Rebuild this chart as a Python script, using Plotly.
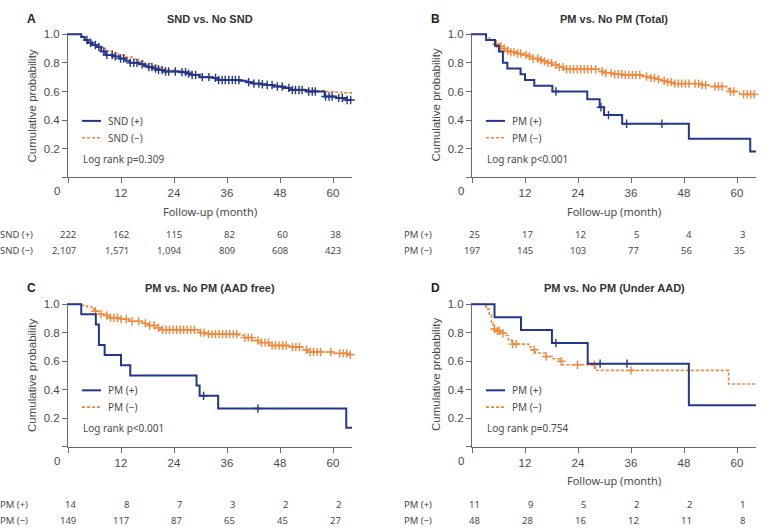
import numpy as np
import plotly.graph_objects as go

W, H = 765, 530
X_MAX = 64.3
MONTH_TICKS = [0, 12, 24, 36, 48, 60]
Y_TICKS = [0, 0.2, 0.4, 0.6, 0.8, 1.0]

# ---------------- Panel A: SND vs. No SND ----------------
A_pos_t = [0, 3.0, 3.8, 4.5, 5.4, 6.4, 7.5, 8.5, 10.2, 11.7, 13.0, 14.0, 16.2, 17.2, 18.1, 19.2, 20.0,
           21.5, 25.3, 26.8, 28.0, 29.8, 32.8, 34.0, 38.9, 40.4, 41.9, 43.5, 44.9, 46.4, 48.7, 50.2,
           54.0, 58.1, 60.7, 63.0]
A_pos_s = [1.0, 0.98, 0.96, 0.94, 0.925, 0.91, 0.88, 0.855, 0.845, 0.83, 0.815, 0.80, 0.79, 0.78, 0.77,
           0.76, 0.75, 0.74, 0.735, 0.725, 0.715, 0.70, 0.695, 0.68, 0.675, 0.665, 0.655, 0.65, 0.645,
           0.635, 0.625, 0.61, 0.60, 0.565, 0.555, 0.54]
A_pos_cens = [4.3, 5.1, 6.2, 7.0, 8.1, 8.8, 10.0, 10.7, 11.9, 12.6, 14.1, 14.9, 15.6, 16.8, 18.3, 19.0,
              19.8, 20.5, 21.3, 22.1, 22.8, 24.3, 25.8, 26.6, 27.3, 28.1, 28.9, 30.4, 31.9, 33.4, 34.1,
              34.9, 35.6, 36.4, 37.2, 37.9, 38.7, 40.9, 42.1, 43.2, 44.0, 45.1, 46.2, 47.4, 48.5, 50.0,
              50.8, 51.5, 52.3, 53.0, 54.5, 55.3, 56.0, 58.3, 59.1, 59.8, 61.3, 62.1, 63.2, 64.0]
A_neg_t = [0, 3.0, 3.8, 4.5, 5.5, 6.5, 7.5, 8.5, 10.0, 11.5, 13.0, 14.5, 16.0, 17.5, 19.0, 20.5, 22.0,
           24.0, 26.0, 28.0, 30.0, 32.0, 34.0, 36.0, 38.0, 40.0, 42.0, 44.0, 46.0, 48.0, 50.0, 52.0,
           54.0, 56.0, 58.0, 60.0, 62.0]
A_neg_s = [1.0, 0.985, 0.965, 0.95, 0.93, 0.915, 0.90, 0.885, 0.87, 0.855, 0.84, 0.825, 0.81, 0.795,
           0.78, 0.765, 0.75, 0.745, 0.735, 0.72, 0.705, 0.695, 0.685, 0.68, 0.675, 0.665, 0.655, 0.645,
           0.64, 0.63, 0.62, 0.615, 0.61, 0.605, 0.60, 0.595, 0.59]
A_neg_cens = []
A_risk_pos = [222, 162, 115, 82, 60, 38]
A_risk_neg = [2107, 1571, 1094, 809, 608, 423]

# ---------------- Panel B: PM vs. No PM (Total) ----------------
B_pos_t = [0, 3.2, 5.2, 6.1, 7.0, 8.0, 11.0, 12.0, 14.1, 18.2, 26.1, 28.9, 29.9, 34.0, 49.1, 63.0]
B_pos_s = [1.0, 0.96, 0.92, 0.88, 0.80, 0.76, 0.72, 0.68, 0.64, 0.60, 0.545, 0.49, 0.435, 0.375,
           0.27, 0.18]
B_pos_cens = [19.0, 29.2, 30.9, 35.0, 43.0]
B_neg_t = [0, 3.2, 4.0, 4.8, 5.5, 6.3, 7.0, 7.8, 8.8, 10.0, 11.3, 12.5, 13.8, 15.0, 16.0, 17.0, 18.3,
           19.5, 20.7, 28.9, 29.8, 32.0, 34.0, 38.5, 40.5, 41.5, 42.8, 44.0, 45.3, 51.5, 53.8, 57.7,
           58.2, 60.6]
B_neg_s = [1.0, 0.975, 0.96, 0.945, 0.93, 0.915, 0.90, 0.885, 0.875, 0.865, 0.855, 0.845, 0.83, 0.82,
           0.81, 0.80, 0.785, 0.77, 0.755, 0.74, 0.73, 0.72, 0.715, 0.705, 0.695, 0.685, 0.675, 0.665,
           0.655, 0.645, 0.635, 0.62, 0.60, 0.58]
B_neg_cens = [5.5, 6.5, 7.3, 8.1, 8.8, 9.5, 10.3, 11.0, 12.2, 13.0, 13.8, 14.9, 15.6, 16.4, 17.2, 18.0,
              19.0, 19.8, 20.6, 21.4, 22.2, 23.0, 23.8, 24.6, 25.4, 26.2, 27.0, 28.0, 29.5, 30.3, 31.5,
              32.3, 33.1, 33.9, 34.7, 35.5, 36.3, 37.1, 38.0, 39.5, 40.5, 41.3, 42.2, 43.5, 44.3, 45.1,
              45.9, 46.7, 47.5, 48.3, 49.1, 50.5, 51.3, 52.1, 52.9, 55.0, 55.8, 56.6, 58.5, 59.3, 61.5,
              62.3, 63.1, 63.9]
B_risk_pos = [25, 17, 12, 5, 4, 3]
B_risk_neg = [197, 145, 103, 77, 56, 35]

# ---------------- Panel C: PM vs. No PM (AAD free) ----------------
C_pos_t = [0, 3.0, 6.3, 7.0, 8.3, 12.0, 14.1, 29.1, 29.8, 34.0, 63.0]
C_pos_s = [1.0, 0.929, 0.857, 0.714, 0.643, 0.571, 0.50, 0.429, 0.357, 0.268, 0.134]
C_pos_cens = [30.7, 43.0]
C_neg_t = [0, 3.3, 4.3, 5.4, 6.2, 7.0, 8.1, 9.2, 11.9, 13.8, 16.8, 18.3, 19.8, 20.9, 29.6, 31.1, 38.7,
           39.8, 41.7, 43.2, 45.5, 50.0, 53.0, 54.2, 60.2, 63.2]
C_neg_s = [1.0, 0.99, 0.98, 0.965, 0.95, 0.93, 0.92, 0.905, 0.895, 0.88, 0.865, 0.85, 0.835, 0.82, 0.80,
           0.79, 0.78, 0.765, 0.745, 0.73, 0.71, 0.70, 0.68, 0.665, 0.655, 0.645]
C_neg_cens = [6.2, 7.5, 8.8, 9.6, 10.4, 11.2, 12.0, 13.2, 14.5, 16.0, 17.5, 18.5, 19.5, 20.5, 21.4, 22.2,
              23.0, 23.8, 24.6, 25.4, 26.2, 27.0, 27.8, 28.6, 30.0, 30.8, 31.8, 32.6, 33.4, 34.2, 35.0,
              35.8, 36.6, 37.4, 38.2, 40.0, 40.8, 41.6, 43.0, 43.8, 44.6, 45.4, 46.2, 47.0, 47.8, 48.6,
              49.4, 50.8, 51.6, 52.4, 54.0, 54.8, 55.6, 56.4, 57.2, 59.5, 61.5, 62.3, 63.1, 63.9]
C_risk_pos = [14, 8, 7, 3, 2, 2]
C_risk_neg = [149, 117, 87, 65, 45, 27]

# ---------------- Panel D: PM vs. No PM (Under AAD) ----------------
D_pos_t = [0, 5.1, 11.1, 18.1, 26.2, 49.1]
D_pos_s = [1.0, 0.909, 0.818, 0.727, 0.583, 0.292]
D_pos_cens = [19.0, 29.0, 35.1]
D_neg_t = [0, 3.2, 3.9, 4.4, 4.8, 5.6, 6.3, 7.5, 8.2, 9.0, 12.8, 13.5, 14.3, 16.6, 18.1, 19.9, 20.3,
           27.9, 58.1]
D_neg_s = [1.0, 0.965, 0.923, 0.865, 0.826, 0.812, 0.796, 0.78, 0.75, 0.72, 0.70, 0.68, 0.657, 0.633,
           0.617, 0.60, 0.575, 0.536, 0.44]
D_neg_cens = [5.1, 5.8, 6.2, 7.0, 9.2, 10.0, 14.1, 16.8, 20.2, 23.9, 27.7, 36.0]
D_risk_pos = [11, 9, 5, 2, 2, 1]
D_risk_neg = [48, 28, 16, 12, 11, 8]

TITLES = ["SND vs. No SND", "PM vs. No PM (Total)", "PM vs. No PM (AAD free)", "PM vs. No PM (Under AAD)"]
LETTERS = ["A", "B", "C", "D"]
GROUP_LABELS = [("SND (+)", "SND (\u2212)"), ("PM (+)", "PM (\u2212)"), ("PM (+)", "PM (\u2212)"),
                ("PM (+)", "PM (\u2212)")]
PVALUES = ["Log rank p=0.309", "Log rank p<0.001", "Log rank p<0.001", "Log rank p=0.754"]
SHOW_XTITLE = [True, True, False, True]

BLUE = "#22378d"
ORANGE = "#f3863a"
AXIS = "#6b6b6b"
TXT = "#4a4a4a"
SANS = "Liberation Sans, Arial, sans-serif"
NOTO = "Noto Sans, sans-serif"

panels = [
    dict(pos=(A_pos_t, A_pos_s, A_pos_cens), neg=(A_neg_t, A_neg_s, A_neg_cens), risk=(A_risk_pos, A_risk_neg),
         x0=68, y0=174, sc=144.5),
    dict(pos=(B_pos_t, B_pos_s, B_pos_cens), neg=(B_neg_t, B_neg_s, B_neg_cens), risk=(B_risk_pos, B_risk_neg),
         x0=472, y0=174, sc=144.5),
    dict(pos=(C_pos_t, C_pos_s, C_pos_cens), neg=(C_neg_t, C_neg_s, C_neg_cens), risk=(C_risk_pos, C_risk_neg),
         x0=68, y0=446, sc=144.0),
    dict(pos=(D_pos_t, D_pos_s, D_pos_cens), neg=(D_neg_t, D_neg_s, D_neg_cens), risk=(D_risk_pos, D_risk_neg),
         x0=472, y0=446, sc=144.0),
]


def fx(p):
    return p / W


def fy(p):
    return 1 - p / H


def step_at(t, s, c):
    t = np.asarray(t)
    s = np.asarray(s)
    idx = np.searchsorted(t, np.asarray(c), side="right") - 1
    return s[idx]


def note(x, y, text, font, xanchor="center", **kw):
    d = dict(x=x, y=y, xref=kw.pop("xref", "paper"), yref="paper", text=text, showarrow=False,
             xanchor=xanchor, yanchor="middle", font=font)
    d.update(kw)
    return d


fig = go.Figure()
annotations = []
shapes = []
layout_axes = {}

for i, p in enumerate(panels):
    n = i + 1
    xa = "x" if n == 1 else f"x{n}"
    ya = "y" if n == 1 else f"y{n}"
    x0, y0, sc = p["x0"], p["y0"], p["sc"]
    x1 = x0 + 284
    ytop = y0 - 1.01 * sc

    for key, color, width, dash in (("neg", ORANGE, 1.6, "3px,2px"), ("pos", BLUE, 2.0, "solid")):
        t, s, cens = p[key]
        fig.add_trace(go.Scatter(
            x=list(t) + [X_MAX], y=list(s) + [s[-1]], mode="lines",
            line=dict(shape="hv", color=color, width=width, dash=dash),
            xaxis=xa, yaxis=ya, showlegend=False, hoverinfo="skip"))
        if len(cens):
            fig.add_trace(go.Scatter(
                x=cens, y=step_at(t, s, cens), mode="markers",
                marker=dict(symbol="cross-thin", size=6, color=color, line=dict(width=1.4, color=color)),
                xaxis=xa, yaxis=ya, showlegend=False, hoverinfo="skip", cliponaxis=False))

    layout_axes["xaxis" if n == 1 else f"xaxis{n}"] = dict(
        domain=[fx(x0), fx(x1)], range=[0, X_MAX], anchor=ya,
        tickvals=MONTH_TICKS, ticktext=[""] + [str(v) for v in MONTH_TICKS[1:]],
        ticks="outside", ticklen=5, tickcolor=AXIS, showline=True, linecolor=AXIS, linewidth=1,
        showgrid=False, zeroline=False, tickfont=dict(family=SANS, size=11.5, color=TXT), fixedrange=True)
    layout_axes["yaxis" if n == 1 else f"yaxis{n}"] = dict(
        domain=[fy(y0), fy(ytop)], range=[0, 1.01], anchor=xa,
        tickvals=Y_TICKS, ticktext=[""] + [f"{v:.1f}" for v in Y_TICKS[1:]],
        ticks="outside", ticklen=5, tickcolor=AXIS, showline=True, linecolor=AXIS, linewidth=1,
        showgrid=False, zeroline=False, tickfont=dict(family=SANS, size=11.5, color=TXT), fixedrange=True)

    annotations.append(note(fx(x0 - 11), fy(y0 + 14), "0", dict(family=SANS, size=11.5, color=TXT)))
    annotations.append(note(fx(x0 + 142), fy(y0 - 160), f"<b>{TITLES[i]}</b>",
                            dict(family=SANS, size=11, color="#333333")))
    annotations.append(note(fx(x0 - 37), fy(y0 - 160), f"<b>{LETTERS[i]}</b>",
                            dict(family=SANS, size=12, color="#222222")))
    annotations.append(note(fx(x0 - 36), fy(y0 - 72.5), "Cumulative probability",
                            dict(family=SANS, size=11.5, color=TXT), textangle=-90))
    lp, ln = GROUP_LABELS[i]
    for k, (lab, color, dash, wd) in enumerate(((lp, BLUE, "solid", 2.0), (ln, ORANGE, "3px,2px", 1.6))):
        yy = y0 - 57 + k * 17
        shapes.append(dict(type="line", xref="paper", yref="paper", x0=fx(x0 + 14), x1=fx(x0 + 33),
                           y0=fy(yy), y1=fy(yy), line=dict(color=color, width=wd, dash=dash)))
        annotations.append(note(fx(x0 + 38), fy(yy), lab, dict(family=NOTO, size=10, color=TXT),
                                xanchor="left"))
    annotations.append(note(fx(x0 + 13), fy(y0 - 19), PVALUES[i], dict(family=NOTO, size=10, color=TXT),
                            xanchor="left"))
    if SHOW_XTITLE[i]:
        annotations.append(note(fx(x0 + 142), fy(y0 + 34), "Follow-up (month)",
                                dict(family=NOTO, size=11, color=TXT)))
    rpos, rneg = p["risk"]
    for k, (lab, row) in enumerate(((lp, rpos), (ln, rneg))):
        yy = y0 + 58 + k * 16
        annotations.append(note(fx(x0 - 70), fy(yy), lab, dict(family=NOTO, size=9.5, color=TXT),
                                xanchor="left"))
        for tv, v in zip(MONTH_TICKS, row):
            annotations.append(note(tv, fy(yy), f"{v:,}", dict(family=NOTO, size=9.5, color=TXT),
                                    xanchor="right", xref=xa, xshift=9.5))

fig.update_layout(
    width=W, height=H, margin=dict(l=0, r=0, t=0, b=0),
    paper_bgcolor="white", plot_bgcolor="white",
    showlegend=False, annotations=annotations, shapes=shapes, **layout_axes)

fig.write_html("out.html")
